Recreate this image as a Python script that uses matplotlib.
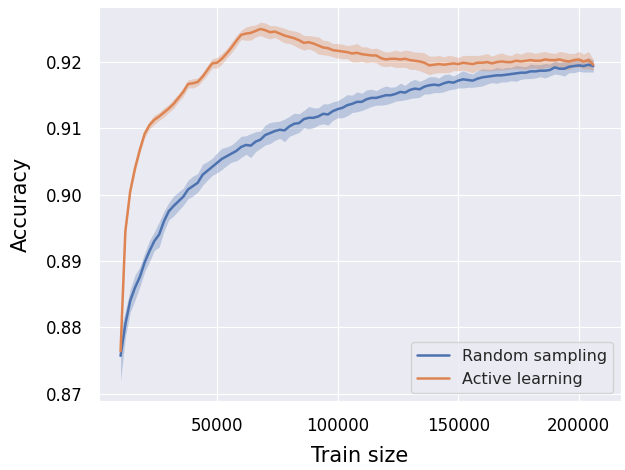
import matplotlib
matplotlib.use("Agg")
import matplotlib.pyplot as plt
import seaborn as sns
import numpy as np

# train sizes (every 2000 samples)
train_size = list(range(10000, 206001, 2000))

# active learning: mean accuracy and band half-width
active_acc = [
    0.8764, 0.8945, 0.9005, 0.9040, 0.9068, 0.9092,
    0.9105, 0.9113, 0.9118, 0.9124, 0.9130, 0.9137, 0.9146, 0.9155, 0.9167, 0.9168,
    0.9170, 0.9178, 0.9188, 0.9198, 0.9199, 0.9205, 0.9213, 0.9222, 0.9232, 0.9241,
    0.9243, 0.9244, 0.9247, 0.9250, 0.9248, 0.9245, 0.9246, 0.9243, 0.9240, 0.9238,
    0.9236, 0.9233, 0.9229, 0.9230, 0.9228, 0.9225, 0.9222, 0.9221, 0.9218, 0.9217,
    0.9216, 0.9215, 0.9213, 0.9214, 0.9212, 0.9211, 0.9210, 0.9210, 0.9206, 0.9204,
    0.9205, 0.9205, 0.9204, 0.9205, 0.9203, 0.9202, 0.9201, 0.9199, 0.9195, 0.9196,
    0.9197, 0.9196, 0.9197, 0.9198, 0.9197, 0.9199, 0.9198, 0.9197, 0.9199, 0.9199,
    0.9200, 0.9198, 0.9200, 0.9201, 0.9200, 0.9200, 0.9202, 0.9201, 0.9202, 0.9203,
    0.9202, 0.9202, 0.9204, 0.9203, 0.9203, 0.9204, 0.9202, 0.9201, 0.9203, 0.9204,
    0.9201, 0.9203, 0.9196,
]
active_err = [
    0.0005, 0.0005, 0.0005, 0.0006, 0.0006, 0.0006,
    0.0006, 0.0007, 0.0006, 0.0007, 0.0006, 0.0007, 0.0006, 0.0007, 0.0006, 0.0007,
    0.0006, 0.0006, 0.0007, 0.0007, 0.0008, 0.0008, 0.0007, 0.0008, 0.0008, 0.0007,
    0.0010, 0.0011, 0.0009, 0.0010, 0.0011, 0.0010, 0.0009, 0.0010, 0.0011, 0.0010,
    0.0011, 0.0012, 0.0011, 0.0010, 0.0011, 0.0013, 0.0011, 0.0011, 0.0010, 0.0011,
    0.0011, 0.0010, 0.0013, 0.0014, 0.0011, 0.0012, 0.0010, 0.0011, 0.0012, 0.0011,
    0.0011, 0.0013, 0.0012, 0.0013, 0.0014, 0.0013, 0.0014, 0.0015, 0.0014, 0.0013,
    0.0013, 0.0012, 0.0013, 0.0011, 0.0010, 0.0011, 0.0012, 0.0013, 0.0011, 0.0012,
    0.0013, 0.0011, 0.0012, 0.0013, 0.0011, 0.0010, 0.0012, 0.0011, 0.0013, 0.0012,
    0.0011, 0.0013, 0.0012, 0.0011, 0.0010, 0.0012, 0.0013, 0.0012, 0.0010, 0.0012,
    0.0011, 0.0013, 0.0008,
]

# random sampling: mean accuracy and band half-width
random_acc = [
    0.8757, 0.8805, 0.8840, 0.8860, 0.8876, 0.8898,
    0.8915, 0.8930, 0.8940, 0.8960, 0.8975, 0.8983, 0.8990, 0.8997, 0.9008, 0.9013,
    0.9018, 0.9030, 0.9036, 0.9042, 0.9048, 0.9054, 0.9058, 0.9062, 0.9066, 0.9072,
    0.9075, 0.9074, 0.9080, 0.9083, 0.9090, 0.9093, 0.9096, 0.9098, 0.9097, 0.9103,
    0.9107, 0.9108, 0.9114, 0.9116, 0.9116, 0.9118, 0.9122, 0.9121, 0.9126, 0.9129,
    0.9131, 0.9135, 0.9137, 0.9140, 0.9140, 0.9144, 0.9146, 0.9146, 0.9148, 0.9150,
    0.9150, 0.9152, 0.9155, 0.9154, 0.9158, 0.9160, 0.9159, 0.9163, 0.9165, 0.9166,
    0.9165, 0.9168, 0.9170, 0.9169, 0.9172, 0.9174, 0.9173, 0.9172, 0.9175, 0.9177,
    0.9178, 0.9179, 0.9180, 0.9180, 0.9181, 0.9182, 0.9183, 0.9184, 0.9184, 0.9186,
    0.9186, 0.9187, 0.9187, 0.9188, 0.9192, 0.9190, 0.9190, 0.9193, 0.9194, 0.9195,
    0.9194, 0.9196, 0.9194,
]
random_err = [
    0.0038, 0.0020, 0.0017, 0.0019, 0.0015, 0.0014,
    0.0016, 0.0014, 0.0019, 0.0015, 0.0013, 0.0015, 0.0014, 0.0013, 0.0014, 0.0015,
    0.0014, 0.0016, 0.0014, 0.0013, 0.0015, 0.0016, 0.0014, 0.0013, 0.0015, 0.0016,
    0.0014, 0.0018, 0.0015, 0.0013, 0.0015, 0.0016, 0.0014, 0.0013, 0.0017, 0.0015,
    0.0016, 0.0014, 0.0013, 0.0017, 0.0015, 0.0013, 0.0015, 0.0016, 0.0014, 0.0013,
    0.0015, 0.0016, 0.0013, 0.0015, 0.0013, 0.0014, 0.0013, 0.0011, 0.0013, 0.0014,
    0.0012, 0.0011, 0.0013, 0.0011, 0.0013, 0.0014, 0.0012, 0.0011, 0.0013, 0.0012,
    0.0011, 0.0013, 0.0012, 0.0010, 0.0011, 0.0013, 0.0011, 0.0010, 0.0012, 0.0013,
    0.0011, 0.0010, 0.0012, 0.0010, 0.0011, 0.0010, 0.0012, 0.0010, 0.0009, 0.0011,
    0.0010, 0.0009, 0.0011, 0.0009, 0.0010, 0.0009, 0.0011, 0.0009, 0.0010, 0.0009,
    0.0009, 0.0011, 0.0009,
]

sns.set_style("darkgrid")
blue = sns.color_palette("deep")[0]
orange = sns.color_palette("deep")[1]

x = np.array(train_size)
fig, ax = plt.subplots(figsize=(6.25, 4.7), dpi=100)
fig.subplots_adjust(left=0.158, right=0.994, bottom=0.147, top=0.985)

for acc, err, col, lab in [(random_acc, random_err, blue, "Random sampling"),
                           (active_acc, active_err, orange, "Active learning")]:
    acc = np.array(acc)
    err = np.array(err)
    ax.plot(x, acc, color=col, lw=1.8, label=lab)
    ax.fill_between(x, acc - err, acc + err, color=col, alpha=0.3, lw=0)

ax.set_xlim(960, 217600)
ax.set_ylim(0.8689, 0.9283)
ax.set_yticks([0.87, 0.88, 0.89, 0.90, 0.91, 0.92])
ax.set_xticks([50000, 100000, 150000, 200000])
ax.tick_params(labelsize=12, colors="black", pad=8)
ax.set_xlabel("Train size", fontsize=15, labelpad=8, color="black")
ax.set_ylabel("Accuracy", fontsize=15, labelpad=11, color="black")
ax.legend(loc="lower right", fontsize=11.5)

plt.savefig("out.png", dpi=100)
